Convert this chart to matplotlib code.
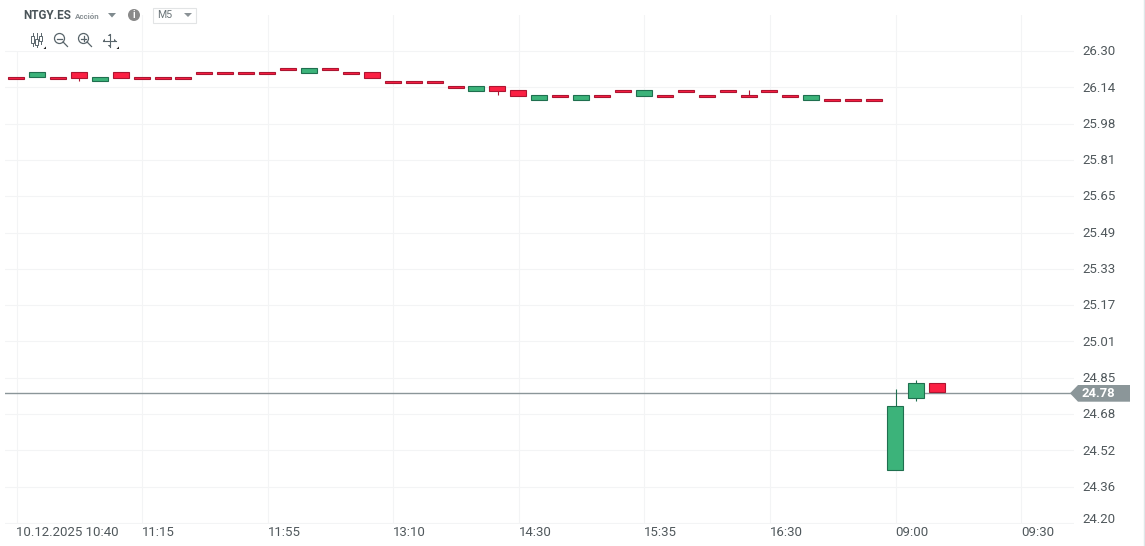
import matplotlib
matplotlib.use('Agg')
import matplotlib.pyplot as plt
from matplotlib.patches import Rectangle, Polygon, Circle
from matplotlib.transforms import ScaledTranslation

plt.rcParams['font.family'] = ['Roboto', 'DejaVu Sans']

# Candle values
open_p = [26.183, 26.183, 26.183, 26.208, 26.165, 26.208, 26.183, 26.183, 26.183,
          26.205, 26.205, 26.205, 26.205, 26.223, 26.203, 26.223, 26.205, 26.205,
          26.165, 26.165, 26.165, 26.143, 26.123, 26.143, 26.125, 26.083, 26.103,
          26.083, 26.103, 26.125, 26.101, 26.103, 26.125, 26.103, 26.125, 26.103,
          26.125, 26.103, 26.083, 26.085, 26.085, 26.085, 24.436, 24.757, 24.821]
close_p = [26.174, 26.208, 26.174, 26.181, 26.183, 26.181, 26.174, 26.174, 26.174,
           26.196, 26.196, 26.196, 26.196, 26.214, 26.223, 26.214, 26.196, 26.181,
           26.156, 26.156, 26.156, 26.134, 26.143, 26.123, 26.101, 26.103, 26.094,
           26.103, 26.094, 26.116, 26.125, 26.094, 26.116, 26.094, 26.116, 26.094,
           26.116, 26.094, 26.103, 26.076, 26.076, 26.076, 24.719, 24.821, 24.781]
# wicks that stick out of the body
wick_high = {35: 26.124, 42: 24.798, 43: 24.838}
wick_low = {3: 26.165, 23: 26.103, 43: 24.741}

price_ticks = [24.20, 24.3615, 24.523, 24.6845, 24.846, 25.0075, 25.169, 25.3305,
               25.492, 25.6535, 25.815, 25.9765, 26.138, 26.2995]
price_labels = ['24.20', '24.36', '24.52', '24.68', '24.85', '25.01', '25.17',
                '25.33', '25.49', '25.65', '25.81', '25.98', '26.14', '26.30']
time_ticks = [0, 6, 12, 18, 24, 30, 36, 42, 48]
time_labels = ['10.12.2025 10:40', '11:15', '11:55', '13:10', '14:30', '15:35',
               '16:30', '09:00', '09:30']
last_price = 24.78

GREEN, GREEN_EDGE = '#3cb37a', '#1f6f4f'
RED, RED_EDGE = '#fb2043', '#ad1531'
GRID = '#f3f4f5'
TEXT = '#50585c'
TAG = '#8b9699'

W, H = 1145, 546
fig = plt.figure(figsize=(W / 100, H / 100), dpi=100, facecolor='white')

# chart area in pixels
left, right, top, bottom = 5, 1074, 15, 523.5
ax = fig.add_axes([left / W, 1 - bottom / H, (right - left) / W, (bottom - top) / H])
px_per_bar = 20.93
ax.set_xlim((left - 16.5) / px_per_bar, (right - 16.5) / px_per_bar)
px_per_unit = 224.8
y0 = 24.20 - 0.5 / px_per_unit
ax.set_ylim(y0, y0 + (bottom - top) / px_per_unit)
for s in ax.spines.values():
    s.set_visible(False)
ax.yaxis.tick_right()
ax.set_yticks(price_ticks)
ax.set_yticklabels(price_labels)
ax.set_xticks(time_ticks)
ax.set_xticklabels(time_labels, ha='left')
ax.tick_params(length=0, labelsize=9.5, labelcolor=TEXT)
ax.tick_params(axis='y', pad=5.8)
ax.tick_params(axis='x', pad=2)
ax.grid(True, color=GRID, lw=0.8)
ax.set_axisbelow(True)

# labels sit a bit above their grid line, the lowest one more so
for k, lab in enumerate(ax.get_yticklabels()):
    dy = 5 if k == 0 else 0.8
    lab.set_transform(lab.get_transform() + ScaledTranslation(0, dy / 100, fig.dpi_scale_trans))

ax.axhline(last_price, color=TAG, lw=1.0, zorder=2)

bar_w = 16 / px_per_bar
shift = 0.5 / px_per_bar
for i, (o, c) in enumerate(zip(open_p, close_p)):
    face, edge = (GREEN, GREEN_EDGE) if c > o else (RED, RED_EDGE)
    body_top, body_bot = max(o, c), min(o, c)
    if i in wick_high:
        ax.plot([i, i], [body_top, wick_high[i]], color=edge, lw=0.8, zorder=3,
                solid_capstyle='butt')
    if i in wick_low:
        ax.plot([i, i], [body_bot, wick_low[i]], color=edge, lw=0.8, zorder=3,
                solid_capstyle='butt')
    ax.add_patch(Rectangle((i - bar_w / 2 - shift, body_bot), bar_w, body_top - body_bot,
                           facecolor=face, edgecolor=edge, lw=0.8, zorder=4))

# overlay in pixel coordinates for header, toolbar and price tag
ui = fig.add_axes([0, 0, 1, 1], facecolor='none')
ui.set_xlim(0, W)
ui.set_ylim(H, 0)
ui.axis('off')

ui.add_patch(Rectangle((16, 0), 125, 29, fc='white', ec='none'))
ui.add_patch(Rectangle((16, 29), 110, 22, fc='white', ec='none'))
ui.plot([1144.2, 1144.2], [0, H], color='#dfe8ea', lw=1.0)

# price tag
ui.add_patch(Polygon([(1070, 393.3), (1078, 385), (1130, 385), (1130, 401.7), (1078, 401.7)],
                     closed=True, fc=TAG, ec='none'))
ui.text(1082, 393.8, '24.78', color='white', fontsize=9.4, fontweight='bold',
        ha='left', va='center')

# header
ui.text(23, 15.5, 'NTGY.ES', color='#4a5459', fontsize=8.5, fontweight='bold', va='center')
ui.text(74.5, 16.5, 'Acción', color='#8b9296', fontsize=5.8, fontweight='bold', va='center')
ui.add_patch(Polygon([(108, 13), (116, 13), (112, 17.5)], fc='#7f8a8e', ec='none'))
ui.add_patch(Circle((134, 15), 6, fc='#8a8a8a', ec='none'))
ui.text(134, 15.2, 'i', color='white', fontsize=7, fontweight='bold', ha='center', va='center')
ui.add_patch(Rectangle((152.5, 7.5), 43, 15, fc='white', ec='#e2e4e5', lw=0.8))
ui.text(157, 15.5, 'M5', color='#6a7478', fontsize=7.6, va='center')
ui.add_patch(Polygon([(184, 13), (192, 13), (188, 17)], fc='#8b9296', ec='none'))

# toolbar icons
ICON = '#59656b'
for x, i0, i1, b0, b1 in [(32.5, 33, 46, 36, 43), (36.5, 33, 47, 39, 45), (40.5, 33, 44, 36, 41)]:
    ui.plot([x, x], [i0, i1], color=ICON, lw=0.7)
    ui.add_patch(Rectangle((x - 1.2, b0), 2.4, b1 - b0, fc='white', ec=ICON, lw=0.7, zorder=3))
for cx, plus in [(59.5, False), (83.5, True)]:
    ui.add_patch(Circle((cx, 38.5), 5, fc='none', ec=ICON, lw=0.9))
    ui.plot([cx + 3.6, cx + 8], [42, 46.5], color=ICON, lw=0.9)
    ui.plot([cx - 2.5, cx + 2.5], [38.5, 38.5], color=ICON, lw=0.9)
    if plus:
        ui.plot([cx, cx], [36, 41], color=ICON, lw=0.9)
ui.plot([103, 116], [40.5, 40.5], color=ICON, lw=0.8)
ui.plot([109.5, 109.5], [34, 47], color=ICON, lw=0.8)
for p in [[(103, 40.5), (105, 38.8), (105, 42.2)], [(116, 40.5), (114, 38.8), (114, 42.2)],
          [(109.5, 34), (107.8, 36), (111.2, 36)], [(109.5, 47), (107.8, 45), (111.2, 45)]]:
    ui.add_patch(Polygon(p, fc=ICON, ec='none'))
for x in [46, 119]:
    ui.add_patch(Polygon([(x - 2.5, 49), (x, 46.5), (x, 49)], fc='#222222', ec='none'))

fig.savefig('out.png', dpi=100)
